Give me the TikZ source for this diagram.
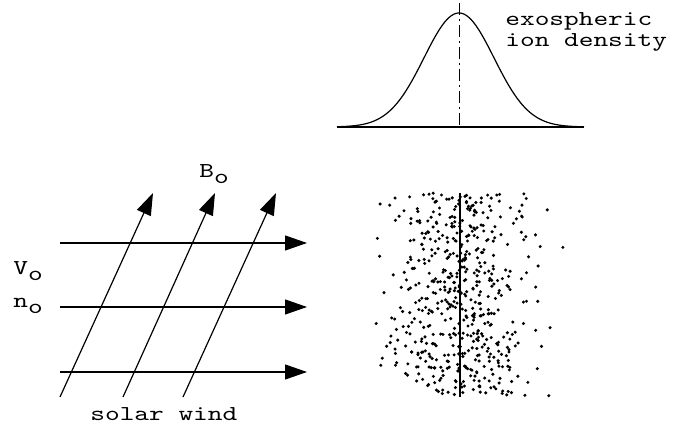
\documentclass[tikz,border=0pt]{standalone}
\usepackage{graphicx}
\usepackage{tikz}
\usetikzlibrary{arrows.meta}
\tikzset{
  % Plain typewriter labels
  lbl/.style={font=\ttfamily\fontsize{10.6}{7.5}\selectfont, inner sep=0pt,
              anchor=base west},
  % Two-line label
  tight/.style={lbl, align=left, anchor=north west},
  % Field and flow arrows
  arr/.style={-{Triangle[length=11pt,width=7.5pt]}, line width=0.6pt},
  % Ion dots
  ion/.style={fill=black},
}
\newcommand{\lowo}{\raisebox{-0.6ex}{o}}
\newcommand{\wide}[1]{\scalebox{1.32}[1]{#1}}

\begin{document}
\begin{tikzpicture}[x=0.5pt,y=0.5pt]
  \useasboundingbox (0,0) rectangle (686,432);

  % ── exospheric ion density profile ────────────────────
  \draw[line width=0.6pt] (337,305) -- (584,305);
  \draw[line width=0.6pt] plot[domain=337:584,samples=120,smooth]
        (\x,{305+114*exp(-((\x-459)*(\x-459))/2450)});
  \coordinate (ptop) at (459,429);
  \coordinate (pbot) at (459,305);
  \draw[line width=0.4pt,dash pattern=on 6pt off 2pt on 1pt off 2pt] (ptop) -- (pbot);
  \node[tight] (exo) at (505,420) {\wide{exospheric}\\[0.6pt]\wide{ion density}};

  % ── solar wind flow (horizontal) ──────────────────────
  \foreach \y [count=\k] in {189,125,60} {
    \coordinate (vs\k) at (60,\y);
    \coordinate (ve\k) at (307,\y);
    \draw[arr] (vs\k) -- (ve\k);
  }

  % ── magnetic field lines (oblique) ────────────────────
  \foreach \xs/\xe [count=\k] in {60/153,123/215,183/276} {
    \coordinate (bs\k) at (\xs,35);
    \coordinate (be\k) at (\xe,239);
    \draw[arr] (bs\k) -- (be\k);
  }

  % ── labels ───────────────────────────────────────────
  \node[lbl] (bo) at (199,254) {\wide{B\lowo}};
  \node[lbl] (vo) at (13,157) {\wide{V\lowo}};
  \node[lbl] (no) at (13,124) {\wide{n\lowo}};
  \node[lbl] (sw) at (90,11) {\wide{solar wind}};

  % ── ion scatter ──────────────────────────────────────
  \coordinate (atop) at (460,239);
  \coordinate (abot) at (460,35);
  \draw[line width=0.8pt] (atop) -- (abot);
  \pgfmathsetseed{11}
  \foreach \i in {1,...,560} {
    \pgfmathsetmacro\ua{0.001+0.999*rnd}
    \pgfmathsetmacro\ub{rnd}
    \pgfmathsetmacro\dotx{460+36*sqrt(-2*ln(\ua))*cos(360*\ub)}
    \pgfmathsetmacro\doty{36+203*rnd}
    \ifdim\dotx pt<372pt\else\ifdim\dotx pt>565pt\else
      \fill[ion] (\dotx,\doty) circle[radius=0.85pt];
    \fi\fi
  }

\end{tikzpicture}
\end{document}
